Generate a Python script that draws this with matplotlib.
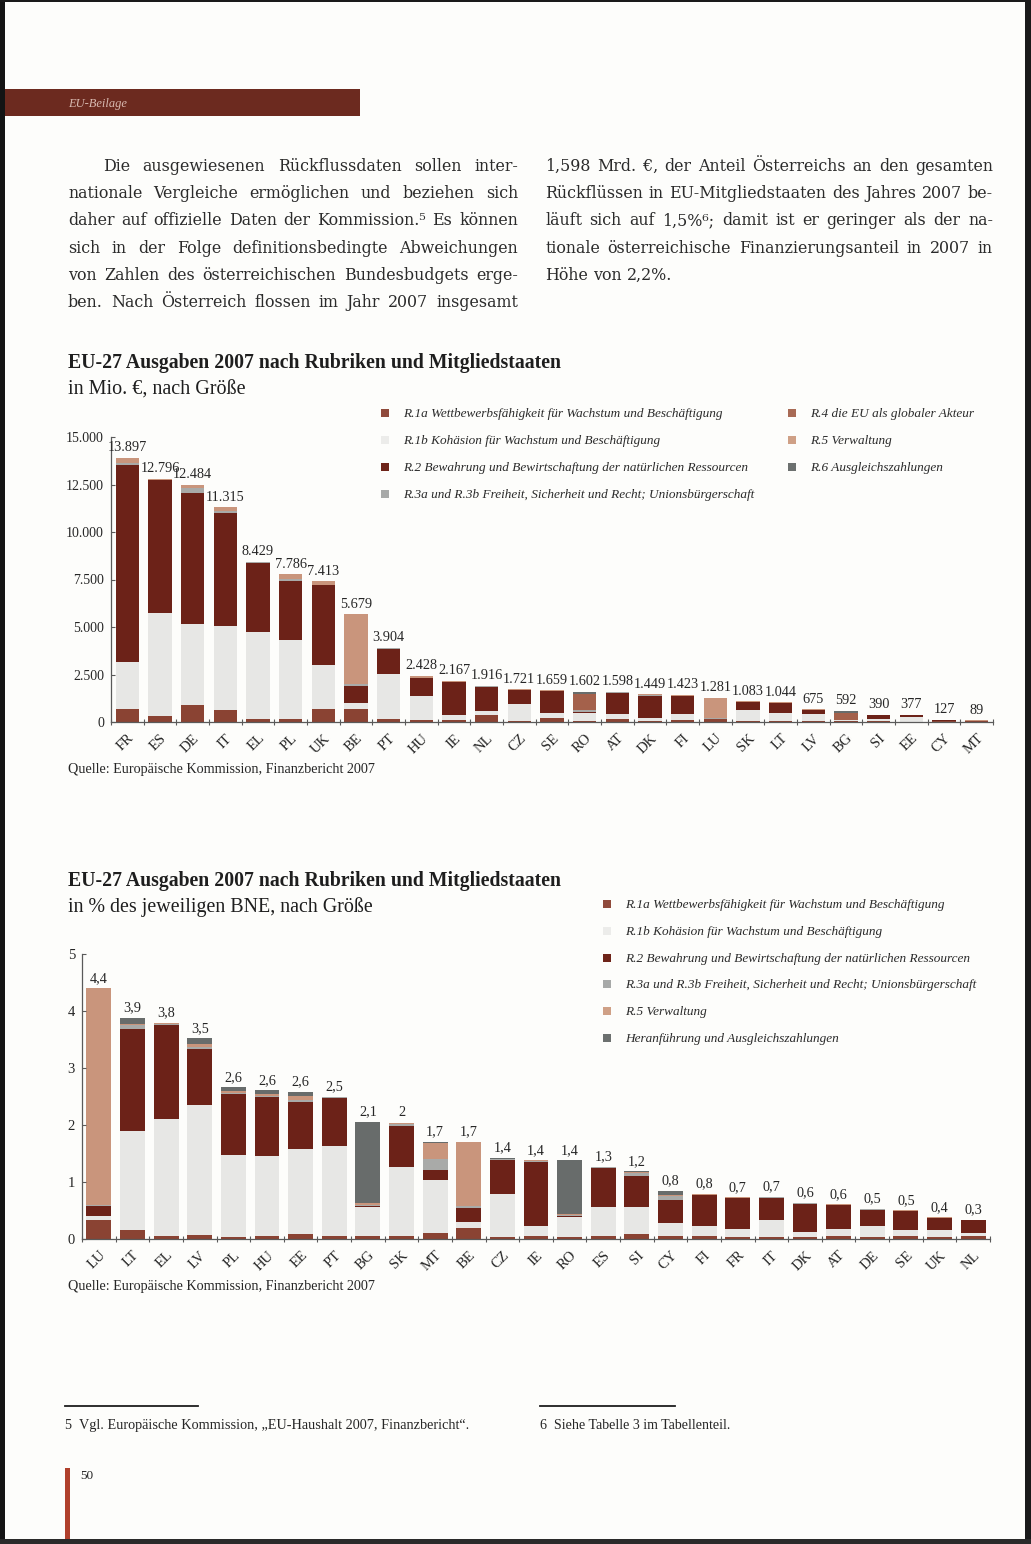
import matplotlib
matplotlib.use('Agg')
import matplotlib.pyplot as plt
from matplotlib.patches import Rectangle
from matplotlib.lines import Line2D
from matplotlib.ticker import FuncFormatter
import numpy as np

# ---------------- data ----------------
series_names_top = [
    "R.1a Wettbewerbsfähigkeit für Wachstum und Beschäftigung",
    "R.1b Kohäsion für Wachstum und Beschäftigung",
    "R.2 Bewahrung und Bewirtschaftung der natürlichen Ressourcen",
    "R.3a und R.3b Freiheit, Sicherheit und Recht; Unionsbürgerschaft",
    "R.4 die EU als globaler Akteur",
    "R.5 Verwaltung",
    "R.6 Ausgleichszahlungen",
]
countries_top = ['FR', 'ES', 'DE', 'IT', 'EL', 'PL', 'UK', 'BE', 'PT', 'HU', 'IE', 'NL', 'CZ', 'SE',
                 'RO', 'AT', 'DK', 'FI', 'LU', 'SK', 'LT', 'LV', 'BG', 'SI', 'EE', 'CY', 'MT']
totals_top = [13897, 12796, 12484, 11315, 8429, 7786, 7413, 5679, 3904, 2428, 2167, 1916, 1721, 1659,
              1602, 1598, 1449, 1423, 1281, 1083, 1044, 675, 592, 390, 377, 127, 89]
r1a_top = [700, 310, 890, 630, 170, 140, 660, 660, 140, 87, 100, 350, 50, 190,
           50, 175, 70, 100, 140, 70, 70, 40, 30, 40, 20, 40, 30]
r1b_top = [2460, 5420, 4280, 4440, 4570, 4200, 2330, 340, 2390, 1277, 250, 210, 910, 300,
           440, 230, 140, 300, 20, 560, 420, 400, 70, 130, 220, 20, 20]
r2_top = [10350, 7000, 6890, 5910, 3650, 3090, 4200, 890, 1320, 926, 1750, 1280, 700, 1120,
          20, 1140, 1170, 960, 20, 420, 520, 190, 0, 200, 120, 50, 20]
r3_top = [130, 20, 250, 120, 10, 110, 40, 100, 20, 20, 30, 30, 20, 20,
          140, 20, 30, 20, 30, 10, 10, 15, 30, 10, 7, 7, 5]
r4_top = [0, 0, 0, 0, 0, 0, 0, 0, 0, 0, 0, 0, 0, 0,
          820, 0, 0, 0, 0, 0, 0, 0, 320, 0, 0, 0, 0]
r5_top = [257, 46, 174, 215, 29, 246, 183, 3689, 34, 118, 37, 46, 41, 29,
          0, 33, 39, 43, 1071, 23, 24, 30, 0, 10, 10, 10, 14]
r6_top = [0, 0, 0, 0, 0, 0, 0, 0, 0, 0, 0, 0, 0, 0,
          132, 0, 0, 0, 0, 0, 0, 0, 142, 0, 0, 0, 0]

series_names_bot = [
    "R.1a Wettbewerbsfähigkeit für Wachstum und Beschäftigung",
    "R.1b Kohäsion für Wachstum und Beschäftigung",
    "R.2 Bewahrung und Bewirtschaftung der natürlichen Ressourcen",
    "R.3a und R.3b Freiheit, Sicherheit und Recht; Unionsbürgerschaft",
    "R.5 Verwaltung",
    "Heranführung und Ausgleichszahlungen",
]
countries_bot = ['LU', 'LT', 'EL', 'LV', 'PL', 'HU', 'EE', 'PT', 'BG', 'SK', 'MT', 'BE', 'CZ', 'IE',
                 'RO', 'ES', 'SI', 'CY', 'FI', 'FR', 'IT', 'DK', 'AT', 'DE', 'SE', 'UK', 'NL']
labels_bot = [4.4, 3.9, 3.8, 3.5, 2.6, 2.6, 2.6, 2.5, 2.1, 2, 1.7, 1.7, 1.4, 1.4,
              1.4, 1.3, 1.2, 0.8, 0.8, 0.7, 0.7, 0.6, 0.6, 0.5, 0.5, 0.4, 0.3]
r1a_bot = [0.34, 0.16, 0.06, 0.07, 0.04, 0.06, 0.09, 0.06, 0.06, 0.06, 0.10, 0.19, 0.03, 0.06,
           0.03, 0.05, 0.09, 0.06, 0.05, 0.04, 0.04, 0.04, 0.06, 0.03, 0.05, 0.03, 0.06]
r1b_bot = [0.06, 1.74, 2.05, 2.28, 1.43, 1.40, 1.49, 1.58, 0.50, 1.20, 0.94, 0.10, 0.76, 0.17,
           0.35, 0.51, 0.47, 0.22, 0.17, 0.13, 0.30, 0.08, 0.12, 0.19, 0.10, 0.13, 0.045]
r2_bot = [0.18, 1.79, 1.65, 0.98, 1.08, 1.03, 0.82, 0.84, 0.02, 0.73, 0.17, 0.26, 0.60, 1.12,
          0.03, 0.69, 0.55, 0.41, 0.55, 0.55, 0.38, 0.50, 0.42, 0.29, 0.34, 0.21, 0.22]
r3_bot = [0.02, 0.06, 0.01, 0.04, 0.02, 0.02, 0.04, 0.01, 0.01, 0.03, 0.20, 0.03, 0.01, 0.01,
          0.01, 0.01, 0.04, 0.07, 0.01, 0.005, 0.01, 0.005, 0.005, 0.01, 0.005, 0.005, 0.005]
r5_bot = [3.80, 0.03, 0.02, 0.05, 0.02, 0.03, 0.07, 0.01, 0.04, 0.02, 0.27, 1.12, 0.01, 0.02,
          0.01, 0.01, 0.02, 0.01, 0.01, 0.005, 0.01, 0.005, 0.005, 0.005, 0.005, 0.005, 0.005]
heran_bot = [0, 0.10, 0, 0.10, 0.07, 0.07, 0.07, 0, 1.43, 0, 0.02, 0, 0.01, 0,
             0.95, 0, 0.02, 0.07, 0, 0, 0, 0, 0, 0, 0, 0, 0]

# ---------------- style ----------------
C_R1A = '#8a4333'
C_R1B = '#e7e7e5'
C_R2 = '#6c2218'
C_R3 = '#a9aaa8'
C_R4 = '#a4614b'
C_R5 = '#c9957c'
C_R6 = '#686c6b'
colors_top = [C_R1A, C_R1B, C_R2, C_R3, C_R4, C_R5, C_R6]
colors_bot = [C_R1A, C_R1B, C_R2, C_R3, C_R5, C_R6]
TXT = '#262626'
SERIF = ['Liberation Serif', 'DejaVu Serif']
BODY = ['DejaVu Serif', 'Liberation Serif']

W, H = 1031, 1544
fig = plt.figure(figsize=(W / 100, H / 100), dpi=100)
fig.patch.set_facecolor('#fdfdfb')
renderer = fig.canvas.get_renderer()


def fx(px):
    return px / W


def fy(py):
    return 1 - py / H


def text_width(s, size, family=SERIF, **kw):
    t = fig.text(0, 0, s, fontsize=size, family=family, **kw)
    w = t.get_window_extent(renderer).width
    t.remove()
    return w


def fit_size(s, target, **kw):
    return 10 * target / text_width(s, 10, **kw)


def rect_px(x0, y0, x1, y1, color, z=0):
    fig.add_artist(Rectangle((fx(x0), fy(y1)), fx(x1) - fx(x0), fy(y0) - fy(y1),
                             transform=fig.transFigure, facecolor=color,
                             edgecolor='none', zorder=z))


def ptext(x, y, s, size, family=SERIF, **kw):
    kw.setdefault('color', TXT)
    kw.setdefault('va', 'baseline')
    return fig.text(fx(x), fy(y), s, fontsize=size, family=family, **kw)


# ---------------- page decorations ----------------
rect_px(0, 89, 360, 116, '#6c2a1f')
ptext(68, 107, 'EU-Beilage', 9, style='italic', color='#d8b9b0')
rect_px(0, 0, 5, H, '#141414', z=5)
rect_px(1025, 0, W, H, '#1a1a1a', z=5)
rect_px(0, 0, W, 2, '#1a1a1a', z=5)
rect_px(0, 1539, W, H, '#2a2a2a', z=5)

# ---------------- body text (justified) ----------------
left_lines = [
    "Die ausgewiesenen Rückflussdaten sollen inter-",
    "nationale Vergleiche ermöglichen und beziehen sich",
    "daher auf offizielle Daten der Kommission.⁵ Es können",
    "sich in der Folge definitionsbedingte Abweichungen",
    "von Zahlen des österreichischen Bundesbudgets erge-",
    "ben. Nach Österreich flossen im Jahr 2007 insgesamt",
]
right_lines = [
    "1,598 Mrd. €, der Anteil Österreichs an den gesamten",
    "Rückflüssen in EU-Mitgliedstaaten des Jahres 2007 be-",
    "läuft sich auf 1,5%⁶; damit ist er geringer als der na-",
    "tionale österreichische Finanzierungsanteil in 2007 in",
    "Höhe von 2,2%.",
]


def space_w(size):
    return text_width('a a', size, family=BODY) - text_width('aa', size, family=BODY)


def natural(line, size):
    words = line.split(' ')
    return sum(text_width(w, size, family=BODY) for w in words) + space_w(size) * (len(words) - 1)


body_size = 13.5
checks = [(left_lines[0], 518 - 103)] + [(l, 518 - 68) for l in left_lines[1:]] + \
         [(l, 993 - 545) for l in right_lines[:-1]]
for line, avail in checks:
    nat = natural(line, body_size)
    if nat > avail * 0.995:
        body_size *= avail * 0.995 / nat


def justify(lines, x0, x1, y0, dy, size, indent=0, last_left=False):
    for i, line in enumerate(lines):
        words = line.split(' ')
        xs = x0 + (indent if i == 0 else 0)
        widths = [text_width(w, size, family=BODY) for w in words]
        if last_left and i == len(lines) - 1:
            gap = space_w(size)
        else:
            gap = (x1 - xs - sum(widths)) / max(len(words) - 1, 1)
        xc = xs
        for w, wd in zip(words, widths):
            ptext(xc, y0 + i * dy, w, size, family=BODY, color='#2b2b2b')
            xc += wd + gap


justify(left_lines, 68, 518, 171, 27.2, body_size, indent=35)
justify(right_lines, 545, 993, 171, 27.2, body_size, last_left=True)

# ---------------- titles ----------------
title = "EU-27 Ausgaben 2007 nach Rubriken und Mitgliedstaaten"
tsize = fit_size(title, 492, weight='bold')
ptext(68, 368, title, tsize, weight='bold', color='#1e1e1e')
sub1 = "in Mio. €, nach Größe"
ptext(68, 395, sub1, fit_size(sub1, 178), color='#1e1e1e')
ptext(68, 886, title, tsize, weight='bold', color='#1e1e1e')
sub2 = "in % des jeweiligen BNE, nach Größe"
ptext(68, 912, sub2, fit_size(sub2, 306), color='#1e1e1e')

qsrc = "Quelle: Europäische Kommission, Finanzbericht 2007"
qsize = fit_size(qsrc, 308)
ptext(68, 773, qsrc, qsize)
ptext(68, 1290, qsrc, qsize)

# ---------------- legends ----------------
lsize = fit_size(series_names_top[0], 322, style='italic')


def legend_item(xsq, y, color, label):
    rect_px(xsq - 4, y - 4, xsq + 4, y + 4, color, z=3)
    ptext(xsq + 18, y + 4, label, lsize, style='italic', color='#2a2a2a')


leg_top_colors = ['#8f4a3b', '#ececea', '#6e2419', '#a7a9a8', '#a86a55', '#cfa086', '#6c706f']
top_pos = [(385, 413), (385, 440), (385, 467), (385, 494), (792, 413), (792, 440), (792, 467)]
for (xs, ys), c, lab in zip(top_pos, leg_top_colors, series_names_top):
    legend_item(xs, ys, c, lab)

leg_bot_colors = ['#8f4a3b', '#ececea', '#6e2419', '#a7a9a8', '#cfa086', '#6c706f']
for i, (c, lab) in enumerate(zip(leg_bot_colors, series_names_bot)):
    legend_item(607, 904 + i * 26.8, c, lab)


# ---------------- charts ----------------
def style_axes(ax, n):
    for s in ['top', 'right']:
        ax.spines[s].set_visible(False)
    for s in ['left', 'bottom']:
        ax.spines[s].set_color('#5a5a5a')
        ax.spines[s].set_linewidth(0.9)
    ax.set_facecolor('none')
    ax.set_xlim(-0.5, n - 0.5)
    ax.set_xticks(np.arange(n))
    ax.set_xticks(np.arange(-0.5, n, 1), minor=True)
    ax.tick_params(axis='x', which='major', length=0, pad=7, labelsize=10.5, labelcolor=TXT)
    ax.tick_params(axis='x', which='minor', length=5, direction='inout', color='#5a5a5a', width=0.8)
    ax.tick_params(axis='y', direction='in', length=3, color='#5a5a5a', labelsize=10,
                   labelcolor=TXT, pad=5)


# top chart
ax1 = fig.add_axes([fx(111), fy(722), fx(993) - fx(111), fy(437) - fy(722)])
x1 = np.arange(len(countries_top))
bottom = np.zeros(len(countries_top))
for vals, col in zip([r1a_top, r1b_top, r2_top, r3_top, r4_top, r5_top, r6_top], colors_top):
    ax1.bar(x1, vals, bottom=bottom, width=0.71, color=col, linewidth=0)
    bottom += np.array(vals, dtype=float)
ax1.set_ylim(0, 15000)
ax1.set_yticks([0, 2500, 5000, 7500, 10000, 12500, 15000])
ax1.yaxis.set_major_formatter(FuncFormatter(lambda v, p: f"{int(v):,}".replace(',', '.')))
style_axes(ax1, len(countries_top))
ax1.set_xticklabels(countries_top, rotation=45, ha='right', rotation_mode='anchor', family=SERIF)
for i, t in enumerate(totals_top):
    ax1.annotate(f"{t:,}".replace(',', '.'), (x1[i], bottom[i]), xytext=(0, 2.5),
                 textcoords='offset points', ha='center', va='bottom', fontsize=10.3,
                 family=SERIF, color=TXT)
for lab in ax1.get_yticklabels():
    lab.set_family(SERIF)

# bottom chart
ax2 = fig.add_axes([fx(82), fy(1239), fx(990) - fx(82), fy(954) - fy(1239)])
x2 = np.arange(len(countries_bot))
bottom2 = np.zeros(len(countries_bot))
for vals, col in zip([r1a_bot, r1b_bot, r2_bot, r3_bot, r5_bot, heran_bot], colors_bot):
    ax2.bar(x2, vals, bottom=bottom2, width=0.74, color=col, linewidth=0)
    bottom2 += np.array(vals, dtype=float)
ax2.set_ylim(0, 5)
ax2.set_yticks([0, 1, 2, 3, 4, 5])
style_axes(ax2, len(countries_bot))
ax2.set_xticklabels(countries_bot, rotation=45, ha='right', rotation_mode='anchor', family=SERIF)
for lab in ax2.get_yticklabels():
    lab.set_family(SERIF)
    lab.set_fontsize(10.5)


def de_num(v):
    return str(int(v)) if float(v).is_integer() else f"{v:.1f}".replace('.', ',')


for i, v in enumerate(labels_bot):
    ax2.annotate(de_num(v), (x2[i], bottom2[i]), xytext=(0, 2.5), textcoords='offset points',
                 ha='center', va='bottom', fontsize=10.3, family=SERIF, color=TXT)

# ---------------- footnotes ----------------
fig.add_artist(Line2D([fx(65), fx(198)], [fy(1406)] * 2, transform=fig.transFigure,
                      color='#1e1e1e', lw=1.3))
fig.add_artist(Line2D([fx(540), fx(675)], [fy(1406)] * 2, transform=fig.transFigure,
                      color='#1e1e1e', lw=1.3))
fn5 = "5  Vgl. Europäische Kommission, „EU-Haushalt 2007, Finanzbericht“."
ptext(65, 1429, fn5, fit_size(fn5, 403))
fn6 = "6  Siehe Tabelle 3 im Tabellenteil."
ptext(540, 1429, fn6, fit_size(fn6, 190))
rect_px(65, 1468, 70, 1540, '#b0402c', z=3)
ptext(80, 1479, "50", 9.5)

fig.savefig('out.png', dpi=100, facecolor=fig.get_facecolor())
